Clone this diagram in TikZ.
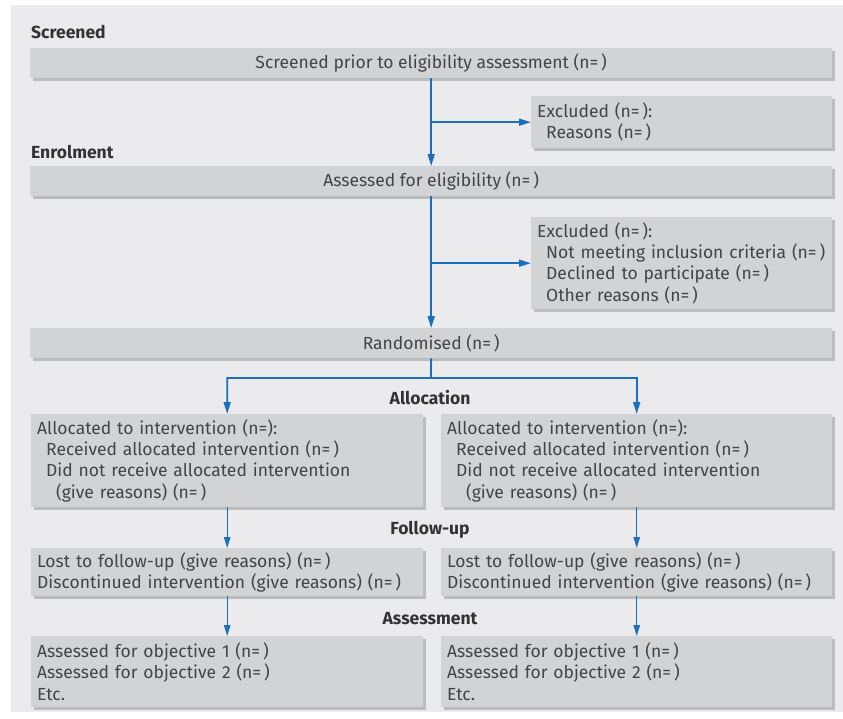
\documentclass[tikz,border=0pt]{standalone}
\usepackage{fontspec}
\setmainfont{Fira Sans}
\usepackage{xcolor}
\usetikzlibrary{arrows.meta,shadows}

\definecolor{pagegrey}{HTML}{EBEBED}
\definecolor{boxgrey}{HTML}{D2D3D5}
\definecolor{shadowgrey}{HTML}{BBBCBE}
\definecolor{flowblue}{HTML}{1C6EBF}
\definecolor{inkgrey}{HTML}{444446}
\definecolor{headgrey}{HTML}{333335}

\tikzset{
	box/.style = {fill=boxgrey, anchor=north west, inner ysep=0pt, inner xsep=6pt, text=inkgrey,
		font=\fontsize{17.5}{21.3}\selectfont,
		drop shadow={shadow xshift=3pt, shadow yshift=-3pt, fill=shadowgrey, opacity=1}},
	widebox/.style = {box, inner xsep=0pt, minimum width=802pt, minimum height=30pt},
	listbox/.style = {box, align=left, text width=#1},
	head/.style = {inner sep=0pt, text=headgrey, font=\fontsize{17.5}{20}\selectfont\bfseries},
	trunk/.style = {draw=flowblue, line width=1.8pt, -{Triangle[length=12pt,width=7pt]}},
	branch/.style = {draw=flowblue, line width=1.3pt, -{Triangle[length=11pt,width=6.5pt]}}
}

\begin{document}
\begin{tikzpicture}[x=1pt, y=-1pt]
	\fill[white] (0,0) rectangle (843,718);
	\fill[pagegrey] (11,5) rectangle (843,712);
	\useasboundingbox (0,0) rectangle (843,718);

	\node[head, anchor=west] (screened) at (31,32) {Screened};
	\node[widebox] (scr) at (30,48) {Screened prior to eligibility assessment (n=\,)};
	\node[listbox=289pt, minimum height=52pt] (exc1) at (531,96) {Excluded (n=\,):\\\hspace*{9pt}Reasons (n=\,)};

	\node[head, anchor=west] (enrolment) at (31,152) {Enrolment};
	\node[widebox] (elig) at (30,166) {Assessed for eligibility (n=\,)};
	\node[listbox=289pt, minimum height=92pt] (exc2) at (531,217) {Excluded (n=\,):\\\hspace*{9pt}Not meeting inclusion criteria (n=\,)\\\hspace*{9pt}Declined to participate (n=\,)\\\hspace*{9pt}Other reasons (n=\,)};

	\node[widebox] (rand) at (30,328) {Randomised (n=\,)};
	\coordinate (split) at (431,378);

	\node[head] (allocation) at (430,398) {Allocation};
	\node[listbox=380pt, minimum height=93pt] (allocL) at (31,414) {Allocated to intervention (n=):\\\hspace*{9pt}Received allocated intervention (n=\,)\\\hspace*{9pt}Did not receive allocated intervention\\\hspace*{19pt}(give reasons) (n=\,)};
	\node[listbox=379pt, minimum height=93pt] (allocR) at (441,414) {Allocated to intervention (n=):\\\hspace*{9pt}Received allocated intervention (n=\,)\\\hspace*{9pt}Did not receive allocated intervention\\\hspace*{19pt}(give reasons) (n=\,)};

	\node[head] (followup) at (430,530) {Follow-up};
	\node[listbox=380pt, minimum height=48pt] (fuL) at (31,548) {Lost to follow-up (give reasons) (n=\,)\\Discontinued intervention (give reasons) (n=\,)};
	\node[listbox=379pt, minimum height=48pt] (fuR) at (441,548) {Lost to follow-up (give reasons) (n=\,)\\Discontinued intervention (give reasons) (n=\,)};

	\node[head] (assessment) at (430,619) {Assessment};
	\node[listbox=380pt, minimum height=71pt] (asL) at (31,636) {Assessed for objective 1 (n=\,)\\Assessed for objective 2 (n=\,)\\Etc.};
	\node[listbox=379pt, minimum height=71pt] (asR) at (441,636) {Assessed for objective 1 (n=\,)\\Assessed for objective 2 (n=\,)\\Etc.};

	\draw[trunk] (scr) -- (elig);
	\draw[trunk] (scr |- exc1) -- (exc1);
	\draw[trunk] (elig) -- (rand);
	\draw[trunk] (elig |- exc2) -- (exc2);
	\draw[trunk] (rand) -- (split) -| (allocL);
	\draw[trunk] (split) -| (allocR);
	\draw[branch] (allocL) -- (fuL);
	\draw[branch] (allocR) -- (fuR);
	\draw[branch] (fuL) -- (asL);
	\draw[branch] (fuR) -- (asR);
\end{tikzpicture}
\end{document}
